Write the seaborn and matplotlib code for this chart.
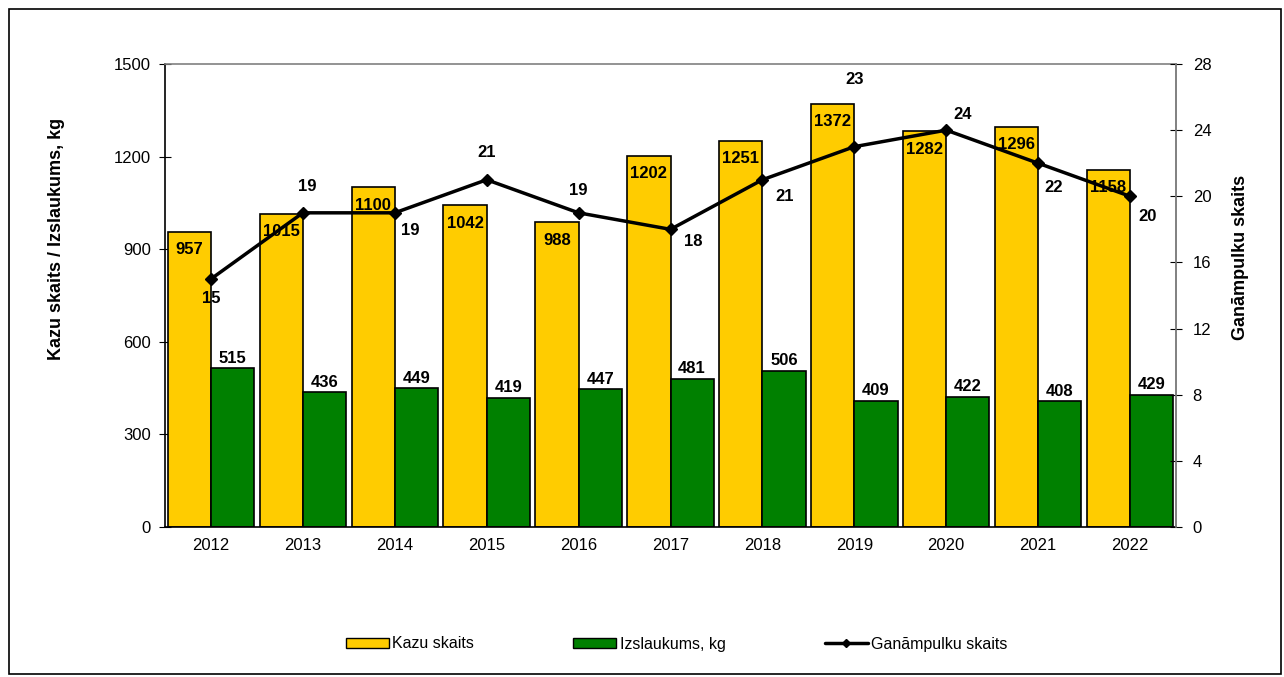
import matplotlib
matplotlib.use("Agg")

import matplotlib.pyplot as plt
import pandas as pd
import seaborn as sns
from matplotlib.lines import Line2D
from matplotlib.patches import Patch, Rectangle
from matplotlib.ticker import MultipleLocator, FixedLocator

years = ["2012", "2013", "2014", "2015", "2016", "2017", "2018", "2019", "2020", "2021", "2022"]
kazu_skaits = [957, 1015, 1100, 1042, 988, 1202, 1251, 1372, 1282, 1296, 1158]
izslaukums = [515, 436, 449, 419, 447, 481, 506, 409, 422, 408, 429]
ganampulki = [15, 19, 19, 21, 19, 18, 21, 23, 24, 22, 20]

# label offsets for the herd-count line (pixels), picked to match the original
line_label_offsets = [(0, -20), (4, 26), (15, -18), (0, 27), (0, 22), (23, -12),
                      (22, -17), (0, 67), (16, 16), (15, -24), (18, -20)]

YELLOW = "#FFCC00"
GREEN = "#008000"

sns.set_style("white")
plt.rcParams["font.family"] = ["Liberation Sans", "DejaVu Sans"]
plt.rcParams["text.color"] = "black"
plt.rcParams["axes.labelcolor"] = "black"
plt.rcParams["xtick.color"] = "black"
plt.rcParams["ytick.color"] = "black"

df = pd.DataFrame({
    "Gads": years * 2,
    "Vertiba": kazu_skaits + izslaukums,
    "Serija": ["Kazu skaits"] * len(years) + ["Izslaukums, kg"] * len(years),
})

fig = plt.figure(figsize=(12.84, 6.77), dpi=100)
ax = fig.add_axes([165 / 1284, 1 - 527 / 677, (1176 - 165) / 1284, (527 - 64) / 677])

sns.barplot(data=df, x="Gads", y="Vertiba", hue="Serija",
            palette=[YELLOW, GREEN], saturation=1, width=0.94, gap=0,
            edgecolor="black", linewidth=1.2, legend=False, ax=ax)

ax.set_xlim(-0.5, len(years) - 0.5)
ax.set_ylim(0, 1500)
ax.yaxis.set_major_locator(MultipleLocator(300))
ax.set_xlabel("")
ax.set_ylabel("Kazu skaits / Izslaukums, kg", fontsize=13, fontweight="bold")
ax.yaxis.set_label_coords(-0.099, 0.622)
ax.tick_params(axis="y", direction="inout", length=8, labelsize=12, pad=6)
ax.tick_params(axis="x", which="major", length=0, labelsize=12, pad=8)
ax.xaxis.set_minor_locator(FixedLocator([i - 0.5 for i in range(len(years) + 1)]))
ax.tick_params(axis="x", which="minor", direction="out", length=6)

for side in ["left", "bottom"]:
    ax.spines[side].set_color("black")
    ax.spines[side].set_linewidth(1.2)
for side in ["top", "right"]:
    ax.spines[side].set_color("#808080")
    ax.spines[side].set_linewidth(1.2)

# bar value labels
yellow_bars = ax.containers[0]
green_bars = ax.containers[1]
for bar, v in zip(yellow_bars, kazu_skaits):
    ax.annotate(f"{v}", (bar.get_x() + bar.get_width() / 2, bar.get_height()),
                xytext=(0, -18), textcoords="offset pixels", ha="center", va="center",
                fontsize=12, fontweight="bold")
for bar, v in zip(green_bars, izslaukums):
    ax.annotate(f"{v}", (bar.get_x() + bar.get_width() / 2, bar.get_height()),
                xytext=(0, 10), textcoords="offset pixels", ha="center", va="center",
                fontsize=12, fontweight="bold")

# secondary axis: herd count line
ax2 = ax.twinx()
ax2.plot(range(len(years)), ganampulki, color="black", linewidth=2.5,
         marker="D", markersize=6)
ax2.set_ylim(0, 28)
ax2.yaxis.set_major_locator(MultipleLocator(4))
ax2.set_ylabel("Ganāmpulku skaits", fontsize=13, fontweight="bold")
ax2.yaxis.set_label_coords(1.055, 0.583)
ax2.tick_params(axis="y", direction="inout", length=8, labelsize=12, pad=8)
for side in ["top", "left", "bottom"]:
    ax2.spines[side].set_visible(False)
ax2.spines["right"].set_color("#808080")
ax2.spines["right"].set_linewidth(1.2)

for i, (v, off) in enumerate(zip(ganampulki, line_label_offsets)):
    ax2.annotate(f"{v}", (i, v), xytext=off, textcoords="offset pixels",
                 ha="center", va="center", fontsize=12, fontweight="bold")

# legend
handles = [
    Patch(facecolor=YELLOW, edgecolor="black", label="Kazu skaits"),
    Patch(facecolor=GREEN, edgecolor="black", label="Izslaukums, kg"),
    Line2D([0], [0], color="black", linewidth=2.5, marker="D", markersize=4,
           label="Ganāmpulku skaits"),
]
fig.legend(handles=handles, loc="center", bbox_to_anchor=(0.527, 1 - 644 / 677),
           ncol=3, frameon=False, fontsize=11.5, columnspacing=6.2,
           handlelength=2.7, handleheight=0.6, handletextpad=0.2)

# outer border
fig.patches.append(Rectangle((9 / 1284, 3 / 677), 1272 / 1284, 665 / 677,
                             transform=fig.transFigure, fill=False,
                             edgecolor="black", linewidth=1.2))

fig.savefig("out.png", dpi=100)
